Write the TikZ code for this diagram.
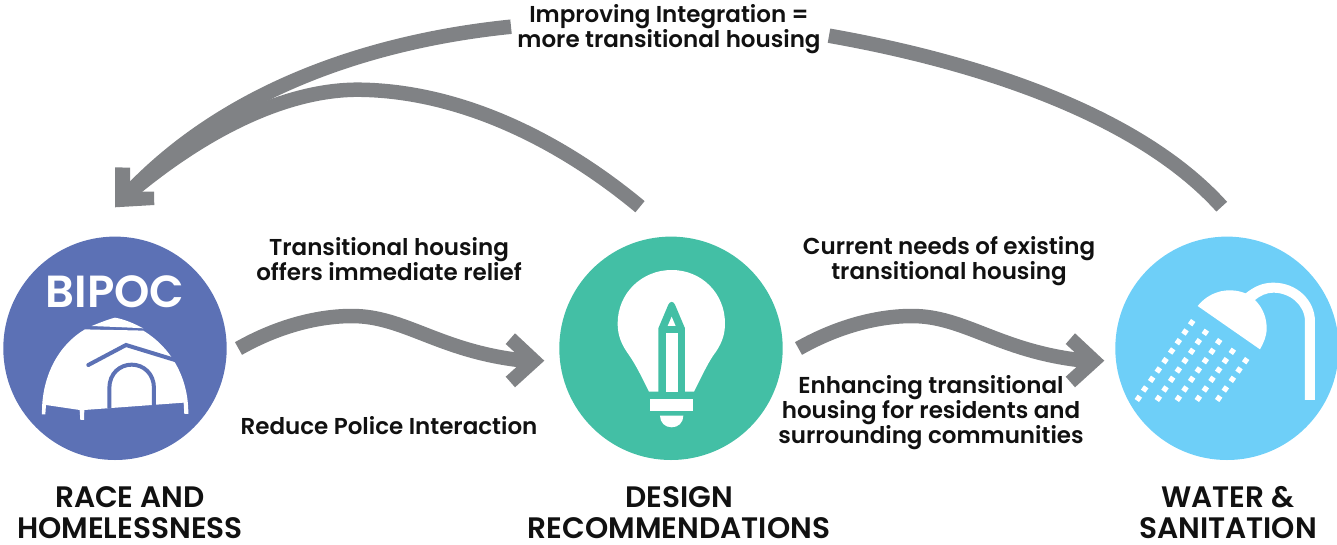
\documentclass[tikz,border=0pt]{standalone}
\usepackage{fontspec}
\setmainfont{Poppins SemiBold}
\definecolor{bluec}{HTML}{5C71B5}
\definecolor{greenc}{HTML}{43BFA5}
\definecolor{skyc}{HTML}{6ECFF8}
\definecolor{arrowc}{HTML}{808285}
\definecolor{textc}{HTML}{111111}
\tikzset{
  disc/.style={circle,inner sep=0pt,minimum size=223.4pt},
  flow/.style={draw=arrowc,line width=14.5pt,line cap=butt},
  head/.style={fill=arrowc},
  label/.style={text=textc,align=center,inner sep=0pt,font=\fontsize{23}{25}\selectfont},
  title/.style={text=textc,align=center,inner sep=0pt,font=\fontsize{29.6}{31}\selectfont},
}
\begin{document}
\begin{tikzpicture}[x=1pt,y=-1pt]
\useasboundingbox (0,0) rectangle (1337,544);
% discs
\node[disc,fill=bluec] (race) at (115,348.3) {};
\node[disc,fill=greenc] (design) at (671,348.3) {};
\node[disc,fill=skyc] (water) at (1227,348.3) {};
% tent
\begin{scope}[shift={(0,230)},x=0.3333pt,y=-0.3333pt]
\fill[white] (275,288) .. controls (300,278) and (325,268) .. (345,263) .. controls (375,268) and (405,282) .. (430,295) .. controls (380,292) and (320,290) .. cycle;
\fill[white] (126,553) .. controls (124,440) and (175,345) .. (255,298) .. controls (310,300) and (370,300) .. (430,302)
  .. controls (510,350) and (566,440) .. (565,552) -- (553,552) -- (551,518) -- (253,540) -- (252,570) -- (241,570) -- (239,540) -- (138,525) -- (136,553) -- cycle;
\draw[bluec,line width=4pt] (328,535) -- (328,475) .. controls (328,430) and (360,404) .. (395,404) .. controls (430,404) and (462,430) .. (462,475) -- (462,528);
\draw[bluec,line width=4pt,line cap=round] (265,405) -- (378,345) -- (525,390);
\end{scope}
% bulb
\begin{scope}[shift={(550,230)},x=0.3333pt,y=-0.3333pt]
\fill[white] (297,485) .. controls (270,430) and (255,400) .. (230,365) .. controls (210,335) and (203,310) .. (203,280) .. controls (203,190) and (275,120) .. (365,120) .. controls (455,120) and (525,190) .. (525,280) .. controls (525,310) and (518,335) .. (498,365) .. controls (475,395) and (460,430) .. (432,485) -- cycle;
\fill[greenc] (325,486) -- (325,295) -- (355,224) .. controls (360,213) and (370,213) .. (375,224) -- (405,295) -- (405,486) -- cycle;
\fill[white] (347,486) -- (347,310) -- (383,310) -- (383,486) -- cycle;
\fill[white] (353,288) -- (365,260) -- (377,288) -- cycle;
\fill[white] (300,507) rectangle (428,542);
\fill[white] (330,557) -- (400,557) .. controls (400,578) and (385,592) .. (365,592) .. controls (345,592) and (330,578) .. (330,557) -- cycle;
\end{scope}
% shower
\begin{scope}[shift={(1100,230)},x=0.3333pt,y=-0.3333pt]
\fill[white] (293,228) .. controls (325,188) and (380,168) .. (437,190) .. controls (465,168) and (490,158) .. (520,158) .. controls (590,158) and (645,210) .. (645,275) -- (645,510) -- (615,510) -- (615,275) .. controls (615,225) and (570,188) .. (520,188) .. controls (500,188) and (480,197) .. (465,210) .. controls (490,235) and (500,265) .. (500,295) .. controls (500,320) and (490,340) .. (480,358) -- cycle;
\foreach \dx/\dy in {275/278,255/306,235/335,215/363,195/392,175/420,155/448,134/477,115/505,
  316/307,295/335,275/364,255/392,235/420,215/448,195/477,175/505,
  356/335,336/364,316/392,295/420,275/448,255/477,235/505,
  397/364,376/392,356/420,336/448,316/477,295/505,
  437/392,417/420,397/448,376/477,356/505}
  \fill[white,shift={(\dx,\dy)},rotate=-35] (-8,-8) rectangle (8,8);
\end{scope}
% connector ends
\coordinate (a1s) at (238.5,348.5);
\coordinate (a1e) at (525,360.7);
\coordinate (a2s) at (798.5,348.5);
\coordinate (a2e) at (1085,360.7);
\coordinate (a3s) at (1221.7,206.7);
\coordinate (a3e) at (829,35.7);
\coordinate (a4s) at (511,26.7);
\coordinate (a4e) at (127,195);
\coordinate (a5s) at (640,206.7);
\coordinate (a5m) at (357,89.7);
% connectors
\draw[flow] (a1s) .. controls (280,325) and (320,316) .. (352,316) .. controls (405,316) and (440,352) .. (a1e);
\fill[head] (544.3,360.7) -- (515,333.3) -- (505.7,344) -- (522,359) -- (522,362) -- (505.7,376.7) -- (515,387.3) -- cycle;
\draw[flow] (a2s) .. controls (840,325) and (880,316) .. (912,316) .. controls (965,316) and (1000,352) .. (a2e);
\fill[head] (1104.3,360.7) -- (1075,333.3) -- (1065.7,344) -- (1082,359) -- (1082,362) -- (1065.7,376.7) -- (1075,387.3) -- cycle;
\draw[flow] (a3s) .. controls (1130,105) and (950,57) .. (a3e);
\draw[flow] (a4s) .. controls (380,40) and (230,85) .. (a4e);
\draw[flow] (a5s) .. controls (550,132) and (450,90) .. (a5m) .. controls (290,90) and (210,125) .. (a4e);
\fill[head] (115,167.3) -- (130,167.7) -- (130,180.7) -- (140,191.7) -- (154,191.7) -- (154.3,205) -- (115,207.3) -- cycle;
% labels
\node[label] (l1) at (669,29.5) {Improving Integration =\\more transitional housing};
\node[label] (l2) at (389,259) {Transitional housing\\offers immediate relief};
\node[label] (l3) at (389,426) {Reduce Police Interaction};
\node[label] (l4) at (949,261) {Current needs of existing\\transitional housing};
\node[label] (l5) at (931,413) {Enhancing transitional\\housing for residents and\\surrounding communities};
\node[title] (t1) at (130,513) {RACE AND\\HOMELESSNESS};
\node[title] (t2) at (679,513) {DESIGN\\RECOMMENDATIONS};
\node[title] (t3) at (1228,513) {WATER \&\\SANITATION};
\node[text=white,inner sep=0pt,font=\fontsize{45}{50}\selectfont] (bp) at (115,292) {BIPOC};
\end{tikzpicture}
\end{document}
